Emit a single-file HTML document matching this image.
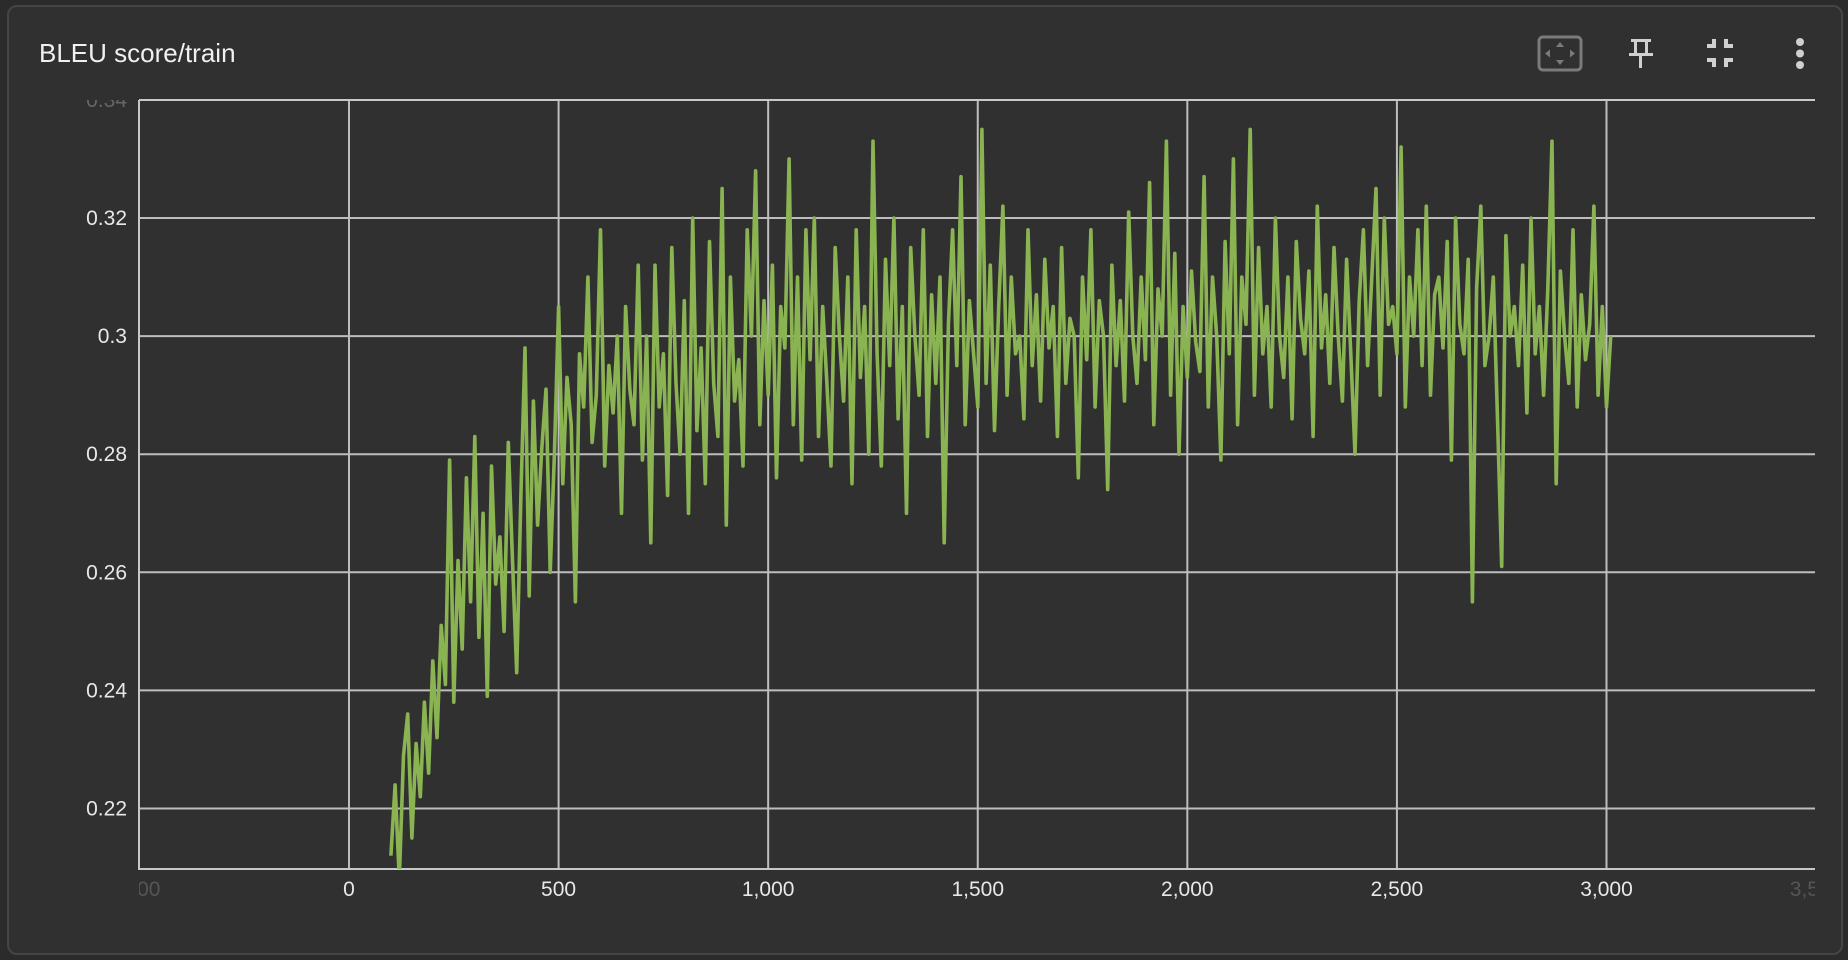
<!DOCTYPE html>
<html><head><meta charset="utf-8"><style>
body{margin:0;background:#2b2b2b;width:1848px;height:960px;overflow:hidden;font-family:"Liberation Sans",sans-serif}
#card{position:absolute;left:7px;top:5px;width:1836px;height:950px;background:#303030;border:2px solid #454545;border-radius:10px;box-sizing:border-box}
#title{position:absolute;left:39px;top:38px;color:#f0f0f0;font-size:26px}
</style></head><body>
<div id="card"></div>
<div id="title">BLEU score/train</div>
<svg width="1848" height="960" style="position:absolute;left:0;top:0" id="svg">
<g><rect x="1539" y="37" width="42" height="33" rx="4" fill="none" stroke="#7a7a7a" stroke-width="3"/><path d="M1560 42l-4 5h8zM1560 65l-4-5h8zM1545 53.5l5-4v8zM1575 53.5l-5-4v8z" fill="#7a7a7a"/></g>
<g fill="#d0d0d0"><rect x="1631" y="39" width="20" height="3"/><rect x="1634" y="42" width="3" height="11"/><rect x="1645" y="42" width="3" height="11"/><rect x="1629" y="53" width="24" height="3"/><rect x="1639" y="56" width="3" height="12"/></g>
<g fill="none" stroke="#d0d0d0" stroke-width="4"><path d="M1707 46h7v-7M1733 46h-7v-7M1707 60h7v7M1733 60h-7v7"/></g>
<g fill="#d0d0d0"><circle cx="1800" cy="42" r="4"/><circle cx="1800" cy="53.5" r="4"/><circle cx="1800" cy="65" r="4"/></g>
<defs><clipPath id="clip"><rect x="139" y="100" width="1676" height="769"/></clipPath>
<clipPath id="xclip"><rect x="139" y="870" width="1676" height="60"/></clipPath>
<clipPath id="yclip"><rect x="0" y="100" width="139" height="800"/></clipPath></defs>
<g id="grid"></g><g id="xlabels" clip-path="url(#xclip)"></g><g id="ylabels" clip-path="url(#yclip)"></g>
<g id="series" clip-path="url(#clip)"></g>
</svg>
<script>
const xTicks=[-500,0,500,1000,1500,2000,2500,3000,3500];
const xTickLabels=["-500","0","500","1,000","1,500","2,000","2,500","3,000","3,500"];
const yTicks=[0.22,0.24,0.26,0.28,0.3,0.32,0.34];
const yTickLabels=["0.22","0.24","0.26","0.28","0.3","0.32","0.34"];
const stepStart=100, stepSize=10;
const bleu=[
.212,.224,.208,.229,.236,.215,.231,.222,.238,.226,
.245,.232,.251,.241,.279,.238,.262,.247,.276,.255,
.283,.249,.27,.239,.278,.258,.266,.25,.282,.262,
.243,.273,.298,.256,.289,.268,.281,.291,.26,.28,
.305,.275,.293,.285,.255,.297,.288,.31,.282,.29,
.318,.278,.295,.287,.3,.27,.305,.291,.285,.312,
.279,.3,.265,.312,.288,.297,.273,.315,.292,.28,
.306,.27,.32,.284,.298,.275,.316,.292,.283,.325,
.268,.31,.289,.296,.278,.318,.3,.328,.285,.306,
.29,.312,.276,.305,.298,.33,.285,.31,.279,.318,
.296,.32,.283,.305,.292,.278,.315,.3,.289,.31,
.275,.318,.293,.305,.28,.333,.297,.278,.313,.295,
.32,.286,.305,.27,.315,.3,.29,.318,.283,.307,
.292,.31,.265,.302,.318,.295,.327,.285,.306,.297,
.288,.335,.292,.312,.284,.305,.322,.29,.31,.297,
.3,.286,.318,.295,.307,.289,.313,.298,.305,.283,
.315,.292,.303,.3,.276,.31,.296,.318,.288,.306,
.3,.274,.312,.295,.306,.289,.321,.3,.292,.31,
.296,.326,.285,.308,.3,.333,.29,.314,.28,.305,
.293,.311,.299,.294,.327,.288,.31,.3,.279,.316,
.297,.33,.285,.31,.302,.335,.29,.315,.297,.305,
.288,.32,.3,.293,.31,.286,.316,.303,.297,.311,
.283,.322,.298,.307,.292,.315,.3,.289,.313,.297,
.28,.306,.318,.295,.31,.325,.29,.32,.302,.305,
.297,.332,.288,.31,.3,.318,.295,.322,.29,.307,
.31,.298,.316,.279,.32,.302,.297,.313,.255,.308,
.322,.295,.3,.31,.286,.261,.317,.3,.305,.295,
.312,.287,.32,.297,.305,.29,.308,.333,.275,.311,
.3,.292,.318,.288,.307,.296,.302,.322,.29,.305,
.288,.3];
const NS="http://www.w3.org/2000/svg";
const L=139,R=1815,T=100,B=869;
const xs=v=>349+(v-0)*(1606.5-349)/3000;
const ys=v=>808.5-(v-0.22)*(808.5-218)/0.1;
const grid=document.getElementById('grid'),xlab=document.getElementById('xlabels'),ylab=document.getElementById('ylabels');
function mk(tag,attrs,parent){const e=document.createElementNS(NS,tag);for(const k in attrs)e.setAttribute(k,attrs[k]);parent.appendChild(e);return e;}
xTicks.forEach((t,i)=>{const x=xs(t);
 if(x>L+2&&x<R-2){const ln=mk('line',{x1:x,x2:x,y1:T,y2:B,stroke:'#bdbdbd','stroke-width':2},grid);
 
 }
 const tx=mk('text',{x:x,y:896,'text-anchor':'middle',fill:(x<L+5||x>R-5)?'#555':'#e8e8e8','font-size':21,'font-family':'Liberation Sans, sans-serif'},xlab);
 tx.textContent=xTickLabels[i];
 
 });
yTicks.forEach((t,i)=>{const y=ys(t);
 if(y>T+2){const ln=mk('line',{x1:L,x2:R,y1:y,y2:y,stroke:'#bdbdbd','stroke-width':2},grid);
 
 }
 const tx=mk('text',{x:127,y:y+7,'text-anchor':'end',fill:y<T+5?'#666':'#e8e8e8','font-size':21,'font-family':'Liberation Sans, sans-serif'},ylab);
 tx.textContent=yTickLabels[i];
 
 });
const ax=mk('path',{d:`M${L} ${T}V${B}H${R}M${L} ${T}H${R}`,stroke:'#c8c8c8','stroke-width':2,fill:'none'},grid);


let d='';bleu.forEach((v,i)=>{d+=(i?'L':'M')+xs(stepStart+i*stepSize).toFixed(1)+' '+ys(v).toFixed(1);});
const line=mk('path',{d:d,stroke:'#8ab351','stroke-width':3.6,fill:'none','stroke-linejoin':'round'},document.getElementById('series'));


</script>
</body></html>
